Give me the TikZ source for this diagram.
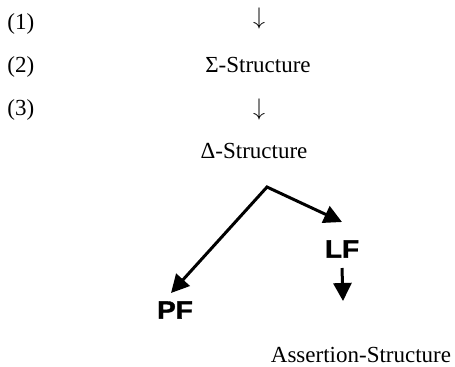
\documentclass[tikz,border=0pt]{standalone}
\usepackage{fontspec}
\setmainfont{Liberation Serif}
\newfontfamily\lfpffont[FakeStretch=1.12, FakeBold=1.5]{Liberation Sans Bold}
\usepackage{tikz}
\usetikzlibrary{arrows.meta,positioning}

\begin{document}
\begin{tikzpicture}[
    x=0.5pt, y=-0.5pt,
    txt/.style={inner sep=0pt, anchor=base, font=\fontsize{11.5}{14}\selectfont},
    num/.style={txt, anchor=base west},
    step arrow/.style={inner sep=0pt, font=\fontsize{12.5}{15}\selectfont},
    level/.style={inner sep=0pt, font=\lfpffont\fontsize{12.5}{15}\selectfont},
    bigarrow/.style={-{Triangle[length=9pt, width=9pt]}, line width=1.5pt}
]
    \useasboundingbox (0,0) rectangle (455,366);

    % Numbered rows
    \node[num] (one) at (7,29) {(1)};
    \node[num] (two) at (7,72) {(2)};
    \node[num] (three) at (7,115) {(3)};

    % Derivation column
    \node[step arrow] (down1) at (259,18) {$\downarrow$};
    \node[txt] (sigma) at (258,72) {Σ-Structure};
    \node[step arrow] (down2) at (259,109) {$\downarrow$};
    \node[txt] (delta) at (254,158) {Δ-Structure};

    % Interfaces
    \coordinate (split) at (267,187);
    \node[level] (pf) at (175,310) {PF};
    \node[level] (lf) at (342,249) {LF};
    \coordinate (lfend) at (343,301);
    \node[txt] (assert) at (361,362) {Assertion-Structure};

    % Arrows
    \draw[{Triangle[length=9pt, width=9pt]}-{Triangle[length=9pt, width=9pt]}, line width=1.5pt, line join=miter]
        ([xshift=-2pt, yshift=4pt]pf.north) -- (split) -- ([yshift=9pt]lf.north);
    \draw[bigarrow] ([yshift=-5pt]lf.south) -- (lfend);
\end{tikzpicture}
\end{document}
